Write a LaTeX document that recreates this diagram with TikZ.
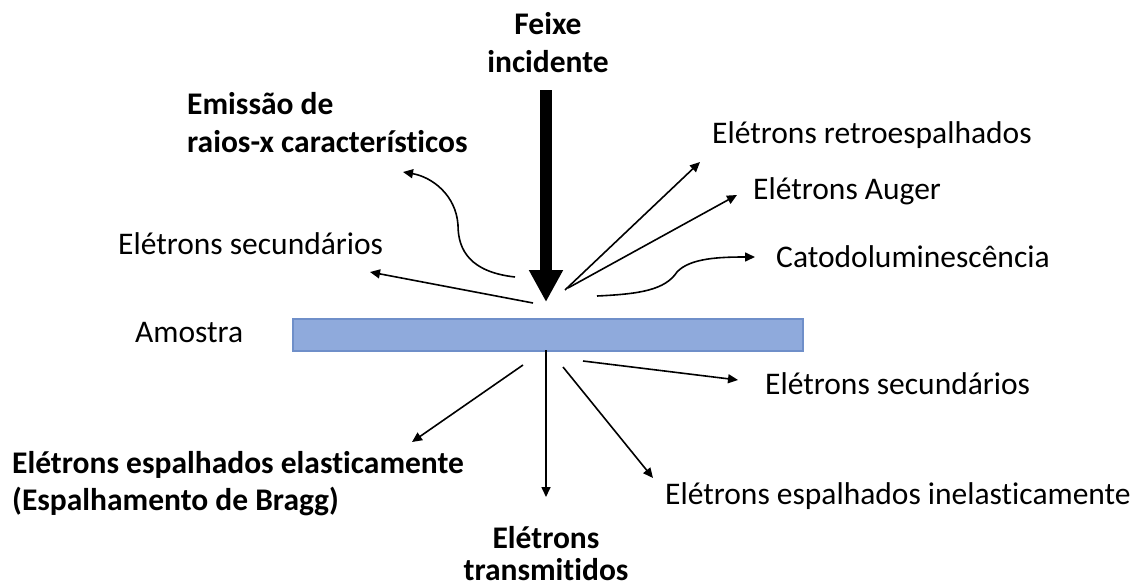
\documentclass[tikz,border=0pt]{standalone}
\usepackage{fontspec}
\setmainfont{Carlito}[Ligatures=NoCommon]
\usetikzlibrary{arrows.meta}
\definecolor{samplefill}{HTML}{8FAADC}
\definecolor{sampledraw}{HTML}{6F8FC9}
\begin{document}
\begin{tikzpicture}[x=1pt,y=-1pt,
  every node/.style={inner sep=0pt},
  lbl/.style={font=\fontsize{31.5}{38}\selectfont, anchor=base west},
  blbl/.style={font=\fontsize{31.5}{38}\selectfont\bfseries, anchor=base west},
  clbl/.style={font=\fontsize{31.5}{38}\selectfont\bfseries, anchor=base},
  arr/.style={line width=1.6pt, -{Triangle[length=10pt,width=9pt]}},
  beam/.style={line width=12pt, -{Triangle[length=32pt,width=32pt]}}]
\useasboundingbox (0,0) rectangle (1132,586);
% sample
\node[draw=sampledraw, fill=samplefill, line width=1.5pt, minimum width=510pt, minimum height=32pt, anchor=north west] (sample) at (292,318) {};
% labels
\node[clbl] (feixe1) at (548,35) {Feixe};
\node[clbl] (feixe2) at (548,72) {incidente};
\node[blbl] (xr1) at (187,114) {Emissão de};
\node[blbl] (xr2) at (187,152) {raios-x característicos};
\node[lbl] (retro) at (712,143) {Elétrons retroespalhados};
\node[lbl] (auger) at (753,199) {Elétrons Auger};
\node[lbl] (sec1) at (118,254) {Elétrons secundários};
\node[lbl] (cato) at (776,267) {Catodoluminescência};
\node[lbl] (amostra) at (135,342) {Amostra};
\node[lbl] (sec2) at (765,394) {Elétrons secundários};
\node[blbl] (el1) at (12,473) {Elétrons espalhados elasticamente};
\node[blbl] (el2) at (12,510) {(Espalhamento de Bragg)};
\node[lbl] (inel) at (665,504) {Elétrons espalhados inelasticamente};
\node[clbl] (tr1) at (546,548) {Elétrons};
\node[clbl] (tr2) at (546,580) {transmitidos};
% coordinates
\coordinate (beamS) at (546,90);
\coordinate (beamE) at (546,302);
\coordinate (s1a) at (533,303); \coordinate (s1b) at (370,272);
\coordinate (xa) at (515,277); \coordinate (xb) at (403,172);
\coordinate (ra) at (565,290); \coordinate (rb) at (700,162);
\coordinate (aa) at (568,288); \coordinate (ab) at (737,195);
\coordinate (ca) at (597,296); \coordinate (cb) at (755,257);
\coordinate (ta) at (546,350); \coordinate (tb) at (546,497);
\coordinate (ea) at (523,365); \coordinate (eb) at (412,442);
\coordinate (ia) at (563,367); \coordinate (ib) at (653,478);
\coordinate (sa) at (583,361); \coordinate (sb) at (738,380);
% arrows
\draw[beam] (beamS) -- (beamE);
\draw[arr] (s1a) -- (s1b);
\draw[arr] (xa) .. controls (470,272) and (458,250) .. (458,225) .. controls (456,195) and (432,177) .. (xb);
\draw[arr] (ra) -- (rb);
\draw[arr] (aa) -- (ab);
\draw[arr] (ca) .. controls (640,294) and (665,290) .. (677,272) .. controls (690,258) and (720,257) .. (cb);
\draw[arr] (ta) -- (tb);
\draw[arr] (ea) -- (eb);
\draw[arr] (ia) -- (ib);
\draw[arr] (sa) -- (sb);
\end{tikzpicture}
\end{document}
